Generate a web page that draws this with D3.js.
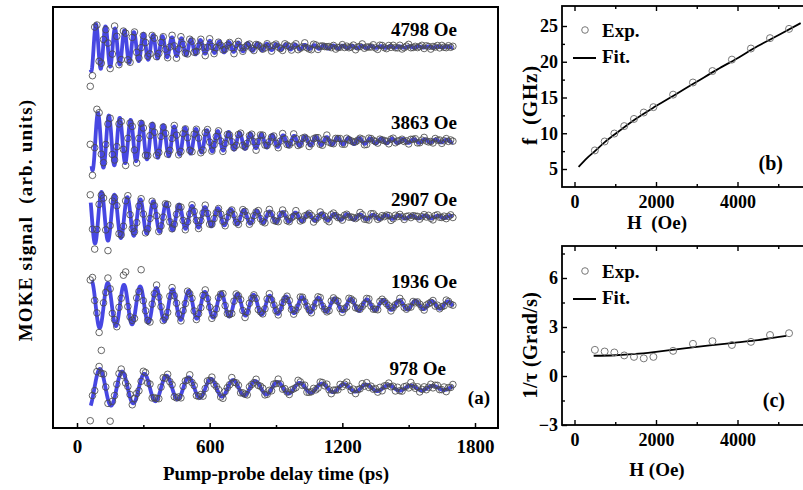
<!DOCTYPE html>
<html><head><meta charset="utf-8">
<script src="https://cdn.jsdelivr.net/npm/d3@7"></script>
<style>
body{margin:0;background:#fff}
svg text{font-family:"Liberation Serif","Times New Roman",serif;font-weight:bold;fill:#000}
</style></head><body>
<svg id="chart" width="803" height="490"></svg>
<script>
// ---- Field dependence of the precession (panels b, c) ----
const fieldsOe  = [500, 740, 978, 1220, 1460, 1700, 1936, 2420, 2907, 3385, 3863, 4330, 4798, 5265];
const freqGHz   = [7.6, 8.85, 9.96, 11.0, 12.0, 12.9, 13.65, 15.4, 17.1, 18.7, 20.3, 21.85, 23.3, 24.6];
const dampGrad  = [1.60, 1.50, 1.44, 1.26, 1.17, 1.08, 1.17, 1.54, 1.97, 2.13, 1.90, 2.09, 2.51, 2.62];
const freqFitH  = [100, 300, 500, 750, 1000, 1500, 2000, 2500, 3000, 3500, 4000, 4500, 5000, 5550];
const freqFit   = [5.3, 6.5, 7.5, 8.8, 9.9, 12.0, 13.8, 15.5, 17.2, 18.9, 20.5, 22.2, 23.7, 25.4];
const dampFitH  = [470, 1000, 1500, 2000, 2500, 3000, 3500, 4000, 4500, 5200];
const dampFit   = [1.24, 1.27, 1.35, 1.48, 1.63, 1.78, 1.92, 2.06, 2.20, 2.45];

// ---- TR-MOKE traces (panel a) ----
const traceFields = [4798, 3863, 2907, 1936, 978];
const traceOffset = [38.1, 28.7, 21.1, 12.3, 4.0];   // vertical offset, arb. units
const traceAmp    = [2.3, 2.8, 2.5, 2.4, 1.9];       // amplitude at the first fitted maximum
const tracePeak   = [86, 95, 111, 66, 104];          // time of that maximum (ps)
const traceStart  = [62, 66, 62, 66, 62];            // start of the fitted curve (ps)
const sampleStart = 60, sampleStep = 10, sampleEnd = 1700;
const timeTicks   = [0, 600, 1200, 1800];
const timeMinor   = [300, 900, 1500];

// measured signal minus fitted curve, in 0.1 arb. units, one value per delay step
const scatter = {
  4798: [-20,-12,5,3,-4,4,2,-3,5,-2,-4,3,4,-2,-3, 3,2,-3,-2,3,1,-2,3,-1,-2,2,3,-2,1,2,
         -1,2,-2,1,2,-1,-2,2,1,-2,0,2,-1,1,-2, 2,0,-1,2,-2,1,1,-2,0,2,-1,-1,2,0,-2,
         1,2,-1,0,1,-2,2,1,-1,0,1,-2,1,2,-1, 0,-1,2,1,-2,0,1,-1,2,0,-1,1,-2,1,0,
         2,-1,0,1,-2,1,0,2,-1,0,-2,1,1,-1,2, 0,-1,1,2,-1,0,-2,1,0,1,-1,2,0,-1,1,
         -2,1,0,2,-1,1,0,-1,2,0,-2,1,1,0,-1, 1,-1,2,0,-1,1,-2,0,1,2,-1,0,1,-1,0,
         2,-1,1,0,-2,1,0,1,-1,2,0,-1,1,0,1],
  3863: [4,-5,3,9,6,-4,5,3,-5,4,-3,5,-2,-4,4, 3,-3,4,-2,2,3,-3,2,-1,3,-2,2,3,-2,1,
         -2,3,1,-2,2,-1,3,-2,1,2,-2,0,2,-1,1, 2,-2,1,0,2,-1,-2,2,1,-1,0,2,-2,1,1,
         -1,2,0,-2,1,2,-1,0,1,-2,2,0,-1,1,2, -2,1,0,1,-1,2,0,-2,1,1,-1,0,2,-1,0,
         1,-2,2,0,-1,1,2,-1,0,-2,1,1,-1,2,0, -1,0,2,-2,1,0,1,-1,2,0,-1,1,-2,0,2,
         1,-1,0,2,-1,-2,1,0,1,2,-1,0,-1,1,2, -2,0,1,-1,2,1,0,-2,1,-1,2,0,1,-1,0,
         1,2,-1,0,1,-2,1,0,2,-1,0,1,-1,2,1],
  2907: [3,-4,-6,4,3,-3,5,-2,-10,3,4,-3,2,-4,3, -2,3,2,-3,2,3,-2,-3,2,1,-2,3,-1,2,-2,
         2,-1,3,-2,0,2,-2,1,2,-1,-2,2,1,-1,2, -2,1,0,2,-1,1,-2,2,0,-1,2,1,-2,0,1,
         2,-1,1,-2,0,2,1,-1,-2,1,0,2,-1,1,0, -1,2,0,1,-2,1,2,0,-1,1,-2,0,2,1,-1,
         0,1,-2,2,0,-1,1,2,-1,0,1,-2,1,0,2, -1,1,0,-2,2,1,-1,0,2,-1,1,0,-2,1,2,
         0,-1,2,1,-1,0,-2,2,1,0,-1,1,2,-1,0, 1,-2,0,2,-1,1,0,-1,2,1,-2,0,1,2,-1,
         0,1,-1,2,0,-2,1,1,-1,0,2,-1,0,1,-1],
  1936: [4,5,-4,3,-5,-27,4,-3,5,3,-4,4,-2,5,-3, 10,17,-3,2,4,-2,3,-3,18,-2,3,2,-3,2,-1,
         3,-2,2,-1,3,-2,1,2,-3,1,2,-1,3,-2,1, -2,2,1,-1,2,-2,0,2,-1,1,-2,2,0,1,-1,
         2,-1,0,2,-2,1,1,-1,2,0,-2,1,2,-1,0, 1,-2,2,0,-1,1,2,-2,0,1,-1,2,0,-2,1,
         2,0,-1,1,-2,2,0,-1,1,2,-1,0,-2,1,2, -1,1,0,-2,2,1,-1,2,0,-1,1,-2,2,0,1,
         -1,2,1,0,-2,1,2,-1,0,1,-2,2,1,-1,0, 2,-1,1,0,-2,2,1,-1,0,2,-1,1,-2,0,1,
         1,-1,2,0,-1,1,-2,2,0,1,-1,2,0,-1,1],
  978:  [-14,3,-4,4,3,-3,4,2,-4,-16,3,2,3,4,3, -3,-4,2,3,-2,4,3,-3,-2,3,2,-3,4,-2,3,
         2,-3,1,3,-2,2,-1,3,-2,1,2,-3,2,1,-2, 3,-1,2,-2,1,3,-2,0,2,-1,2,-2,1,3,-1,
         -2,2,1,-1,3,-2,0,2,-1,2,1,-2,2,0,-1, 2,-2,1,3,-1,0,2,-2,1,-1,3,0,-2,2,1,
         -1,2,0,-2,3,1,-1,2,-2,0,1,3,-1,-2,2, 1,-1,3,0,-2,2,1,-1,2,-2,0,3,1,-1,2,
         -2,1,0,3,-1,2,-2,1,0,2,-1,3,-2,1,0, 2,-1,1,-2,3,0,-1,2,1,-2,3,0,-1,2,-2,
         1,3,-1,0,2,-2,1,2,-1,0,3,-2,1,0,2]
};

const svg = d3.select("#chart");
const BLUE = "#3d3de0";

// ======================= panel (a) =======================
const xa = d3.scaleLinear().domain([0, 1800]).range([77, 475]);
const ya = d3.scaleLinear().domain([0, 42]).range([428, 8]);
const pa = svg.append("g");

function precession(k) {
  const idx = fieldsOe.indexOf(traceFields[k]);
  const f = freqGHz[idx] / 1000;      // cycles per ps
  const rate = dampGrad[idx] / 1000;  // 1/ps
  return t => traceOffset[k] + traceAmp[k] * Math.exp(-(t - tracePeak[k]) * rate) *
              Math.cos(2 * Math.PI * f * (t - tracePeak[k]));
}

traceFields.forEach((field, k) => {
  const fit = precession(k);
  const tFit = d3.range(traceStart[k], sampleEnd + 0.5, 1);
  pa.append("path")
    .attr("d", d3.line().x(t => xa(t)).y(t => ya(fit(t)))(tFit))
    .attr("fill", "none").attr("stroke", BLUE).attr("stroke-width", 3.8)
    .attr("stroke-linejoin", "round").attr("stroke-opacity", 0.95);
  const tExp = d3.range(sampleStart, sampleEnd + 0.5, sampleStep);
  pa.append("g").selectAll("circle").data(tExp).join("circle")
    .attr("cx", t => xa(t))
    .attr("cy", (t, i) => ya(fit(t) + scatter[field][i] / 10))
    .attr("r", 3.3).attr("fill", "none").attr("stroke", "#4a4a4a").attr("stroke-width", 0.85);
});

pa.append("rect").attr("x", 53).attr("y", 7).attr("width", 445).attr("height", 421)
  .attr("fill", "none").attr("stroke", "#000").attr("stroke-width", 2);

const axA = pa.append("g").attr("transform", "translate(0,428)")
  .call(d3.axisBottom(xa).tickValues(timeTicks).tickSize(-5).tickPadding(12).tickFormat(d3.format("d")));
axA.select(".domain").remove();
axA.selectAll("line").attr("stroke-width", 1.5);
axA.selectAll("text").attr("font-size", 19).attr("font-family", null);
pa.append("g").attr("transform", "translate(0,428)")
  .call(d3.axisBottom(xa).tickValues(timeMinor).tickSize(-3).tickFormat(""))
  .call(g => g.select(".domain").remove())
  .selectAll("line").attr("stroke-width", 1.5);

const labelY = [29, 122, 199, 281, 368];
traceFields.forEach((field, k) => {
  pa.append("text").attr("x", k === 4 ? 446 : 457).attr("y", labelY[k]).attr("dy", "0.35em")
    .attr("text-anchor", "end").attr("font-size", 19).text(field + " Oe");
});
pa.append("text").attr("x", 490).attr("y", 397).attr("dy", "0.35em").attr("text-anchor", "end")
  .attr("font-size", 19).text("(a)");
pa.append("text").attr("x", 276).attr("y", 473).attr("dy", "0.35em").attr("text-anchor", "middle")
  .attr("font-size", 19).text("Pump-probe delay time (ps)");
pa.append("text").attr("transform", "translate(25,220) rotate(-90)").attr("dy", "0.35em")
  .attr("text-anchor", "middle").attr("font-size", 19).attr("letter-spacing", 1.2)
  .style("white-space", "pre").text("MOKE signal  (arb. units)");

// ================ panels (b) and (c) helpers ================
const xH = d3.scaleLinear().domain([0, 4000]).range([574.5, 737.5]);
const hTicks = [0, 2000, 4000], hMinor = [1000, 3000, 5000];

function framePanel(g, ys, top, bottom, yTicks, yMinor, yFmt) {
  const left = 562, right = 806;
  g.append("rect").attr("x", left).attr("y", top).attr("width", right - left).attr("height", bottom - top)
    .attr("fill", "none").attr("stroke", "#000").attr("stroke-width", 1.8);
  const style = a => {
    a.select(".domain").remove();
    a.selectAll("line").attr("stroke-width", 1.4);
    a.selectAll("text").attr("font-size", 18).attr("font-family", null);
  };
  g.append("g").attr("transform", `translate(0,${bottom})`)
    .call(d3.axisBottom(xH).tickValues(hTicks).tickSize(-5).tickPadding(8).tickFormat(d3.format("d"))).call(style);
  g.append("g").attr("transform", `translate(0,${bottom})`)
    .call(d3.axisBottom(xH).tickValues(hMinor).tickSize(-3).tickFormat("")).call(style);
  g.append("g").attr("transform", `translate(0,${top})`)
    .call(d3.axisTop(xH).tickValues(hTicks).tickSize(-5).tickFormat("")).call(style);
  g.append("g").attr("transform", `translate(0,${top})`)
    .call(d3.axisTop(xH).tickValues(hMinor).tickSize(-3).tickFormat("")).call(style);
  g.append("g").attr("transform", `translate(${left},0)`)
    .call(d3.axisLeft(ys).tickValues(yTicks).tickSize(-5).tickPadding(4).tickFormat(yFmt)).call(style);
  g.append("g").attr("transform", `translate(${left},0)`)
    .call(d3.axisLeft(ys).tickValues(yMinor).tickSize(-3).tickFormat("")).call(style);
}

function legend(g, y0) {
  g.append("circle").attr("cx", 585).attr("cy", y0).attr("r", 3.3)
    .attr("fill", "none").attr("stroke", "#777").attr("stroke-width", 1);
  g.append("text").attr("x", 602).attr("y", y0).attr("dy", "0.35em").attr("font-size", 19).text("Exp.");
  g.append("line").attr("x1", 573).attr("x2", 596).attr("y1", y0 + 28).attr("y2", y0 + 28)
    .attr("stroke", "#000").attr("stroke-width", 2);
  g.append("text").attr("x", 602).attr("y", y0 + 26).attr("dy", "0.35em").attr("font-size", 19).text("Fit.");
}

// ======================= panel (b) =======================
const yb = d3.scaleLinear().domain([5, 25]).range([169, 26]);
const pb = svg.append("g");
framePanel(pb, yb, 6, 187, [5, 10, 15, 20, 25], [7.5, 12.5, 17.5, 22.5], d3.format("d"));
pb.append("path")
  .attr("d", d3.line().x(d => xH(d[0])).y(d => yb(d[1])).curve(d3.curveMonotoneX)(d3.zip(freqFitH, freqFit)))
  .attr("fill", "none").attr("stroke", "#000").attr("stroke-width", 1.8);
pb.append("g").selectAll("circle").data(d3.zip(fieldsOe, freqGHz)).join("circle")
  .attr("cx", d => xH(d[0])).attr("cy", d => yb(d[1])).attr("r", 3.5)
  .attr("fill", "none").attr("stroke", "#777").attr("stroke-width", 1);
legend(pb, 30);
pb.append("text").attr("x", 783).attr("y", 163).attr("dy", "0.35em").attr("text-anchor", "end")
  .attr("font-size", 20).text("(b)");
pb.append("text").attr("x", 657).attr("y", 222).attr("dy", "0.35em").attr("text-anchor", "middle")
  .attr("font-size", 19).style("white-space", "pre").text("H  (Oe)");
pb.append("text").attr("transform", "translate(530,105) rotate(-90)").attr("dy", "0.35em")
  .attr("text-anchor", "middle").attr("font-size", 21).attr("letter-spacing", 0.8)
  .style("white-space", "pre").text("f  (GHz)");

// ======================= panel (c) =======================
const yc = d3.scaleLinear().domain([-3, 6]).range([425, 278]);
const pc = svg.append("g");
framePanel(pc, yc, 246, 425, [-3, 0, 3, 6], [-1.5, 1.5, 4.5, 7.5], d3.format("d"));
pc.append("path")
  .attr("d", d3.line().x(d => xH(d[0])).y(d => yc(d[1])).curve(d3.curveMonotoneX)(d3.zip(dampFitH, dampFit)))
  .attr("fill", "none").attr("stroke", "#000").attr("stroke-width", 1.8);
pc.append("g").selectAll("circle").data(d3.zip(fieldsOe, dampGrad)).join("circle")
  .attr("cx", d => xH(d[0])).attr("cy", d => yc(d[1])).attr("r", 3.5)
  .attr("fill", "none").attr("stroke", "#777").attr("stroke-width", 1);
legend(pc, 271);
pc.append("text").attr("x", 785).attr("y", 400).attr("dy", "0.35em").attr("text-anchor", "end")
  .attr("font-size", 20).text("(c)");
pc.append("text").attr("x", 657).attr("y", 469).attr("dy", "0.35em").attr("text-anchor", "middle")
  .attr("font-size", 19).text("H (Oe)");
pc.append("text").attr("transform", "translate(530,345) rotate(-90)").attr("dy", "0.35em")
  .attr("text-anchor", "middle").attr("font-size", 20).attr("letter-spacing", 0.4).text("1/τ (Grad/s)");
</script>
</body></html>
